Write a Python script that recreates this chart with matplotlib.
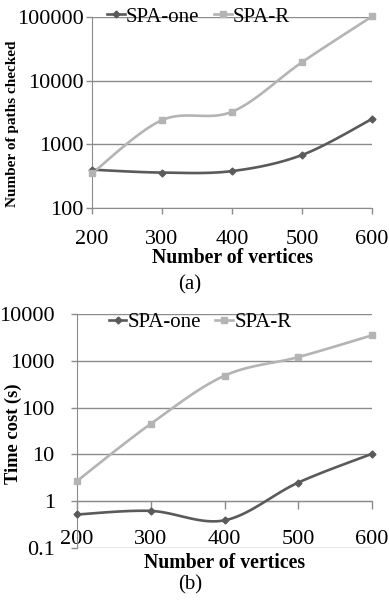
import numpy as np
import matplotlib.pyplot as plt

# data
vertices = [200, 300, 400, 500, 600]
paths_one = [400, 360, 380, 680, 2500]
paths_r = [350, 2400, 3250, 19500, 102000]
time_one = [0.52, 0.62, 0.39, 2.5, 10.3]
time_r = [2.7, 45, 480, 1200, 3500]

DARK = '#5a5a5a'
LIGHT = '#b4b4b4'
GRID = '#8c8c8c'

plt.rcParams['font.family'] = ['Liberation Serif', 'DejaVu Serif']


def smooth(x, y, n=30):
    # Excel-style smoothing: Catmull-Rom spline in (x, log y)
    x = np.asarray(x, float)
    ly = np.log10(y)
    px = np.concatenate([[x[0]], x, [x[-1]]])
    py = np.concatenate([[ly[0]], ly, [ly[-1]]])
    xs, ys = [], []
    t = np.linspace(0, 1, n)
    for i in range(1, len(px) - 2):
        p0, p1, p2, p3 = [np.array([px[j], py[j]]) for j in range(i - 1, i + 3)]
        c1 = p1 + (p2 - p0) / 6
        c2 = p2 - (p3 - p1) / 6
        pts = ((1 - t) ** 3)[:, None] * p1 + (3 * (1 - t) ** 2 * t)[:, None] * c1 \
            + (3 * (1 - t) * t ** 2)[:, None] * c2 + (t ** 3)[:, None] * p2
        xs.append(pts[:, 0])
        ys.append(pts[:, 1])
    return np.concatenate(xs), 10 ** np.concatenate(ys)


def draw(ax, one, r, ylim, crossing, leg_x, leg_y):
    ax.set_yscale('log')
    ax.set_xlim(vertices[0], vertices[-1])
    ax.set_ylim(*ylim)
    ax.grid(axis='y', color=GRID, lw=1.0)
    ax.set_axisbelow(True)
    for vals, col, mk, ms in [(one, DARK, 'D', 3.5), (r, LIGHT, 's', 5)]:
        sx, sy = smooth(vertices, vals)
        ax.plot(sx, sy, color=col, lw=1.9, clip_on=False, zorder=3)
        ax.plot(vertices, vals, ls='none', marker=mk, ms=ms, color=col,
                clip_on=False, zorder=4)
    ax.plot([], [], color=DARK, lw=1.9, marker='D', ms=3.5, label='SPA-one')
    ax.plot([], [], color=LIGHT, lw=1.9, marker='s', ms=5, label='SPA-R')
    for s in ['top', 'right']:
        ax.spines[s].set_visible(False)
    ax.spines['left'].set_color(GRID)
    ax.spines['bottom'].set_color(GRID)
    ax.spines['bottom'].set_position(('data', crossing))
    ax.set_xticks(vertices)
    ax.set_xticklabels([str(v) for v in vertices])
    ax.yaxis.set_minor_locator(plt.NullLocator())
    ax.yaxis.set_major_formatter(plt.FuncFormatter(lambda v, p: f'{v:g}'))
    ax.tick_params(axis='both', colors=GRID, labelcolor='black', labelsize=16,
                   length=4, width=1)
    ax.legend(loc='center', bbox_to_anchor=(leg_x, leg_y), ncol=2,
              frameon=False, fontsize=15, handlelength=0.85, handletextpad=0.05,
              columnspacing=0.7, borderpad=0, borderaxespad=0)


fig = plt.figure(figsize=(3.89, 6.07), dpi=100)

ax1 = fig.add_axes([92 / 389, 1 - 208 / 607, 280 / 389, 191 / 607])
draw(ax1, paths_one, paths_r, (100, 100000), 100, 0.38, 1.0)
ax1.tick_params(axis='x', pad=12)
ax1.tick_params(axis='y', pad=2)
fig.text(13 / 389, 1 - 124 / 607, 'Number of paths checked', rotation=90,
         fontweight='bold', fontsize=11, ha='center', va='center')
fig.text(233 / 389, 1 - 258 / 607, 'Number of vertices', fontweight='bold',
         fontsize=14.2, ha='center', va='center')
fig.text(190 / 389, 1 - 285 / 607, '(a)', fontsize=15, ha='center', va='center')

ax2 = fig.add_axes([77 / 389, 1 - 548 / 607, 295 / 389, 234 / 607])
draw(ax2, time_one, time_r, (0.1, 10000), 1, 0.417, 0.965)
ax2.tick_params(axis='x', length=6, pad=15)
ax2.tick_params(axis='y', pad=12)
fig.text(13 / 389, 1 - 434 / 607, 'Time cost (s)', rotation=90,
         fontweight='bold', fontsize=13.3, ha='center', va='center')
fig.text(225 / 389, 1 - 563 / 607, 'Number of vertices', fontweight='bold',
         fontsize=14.2, ha='center', va='center')
fig.text(190 / 389, 1 - 585 / 607, '(b)', fontsize=15, ha='center', va='center')

fig.savefig('out.png', dpi=100)
